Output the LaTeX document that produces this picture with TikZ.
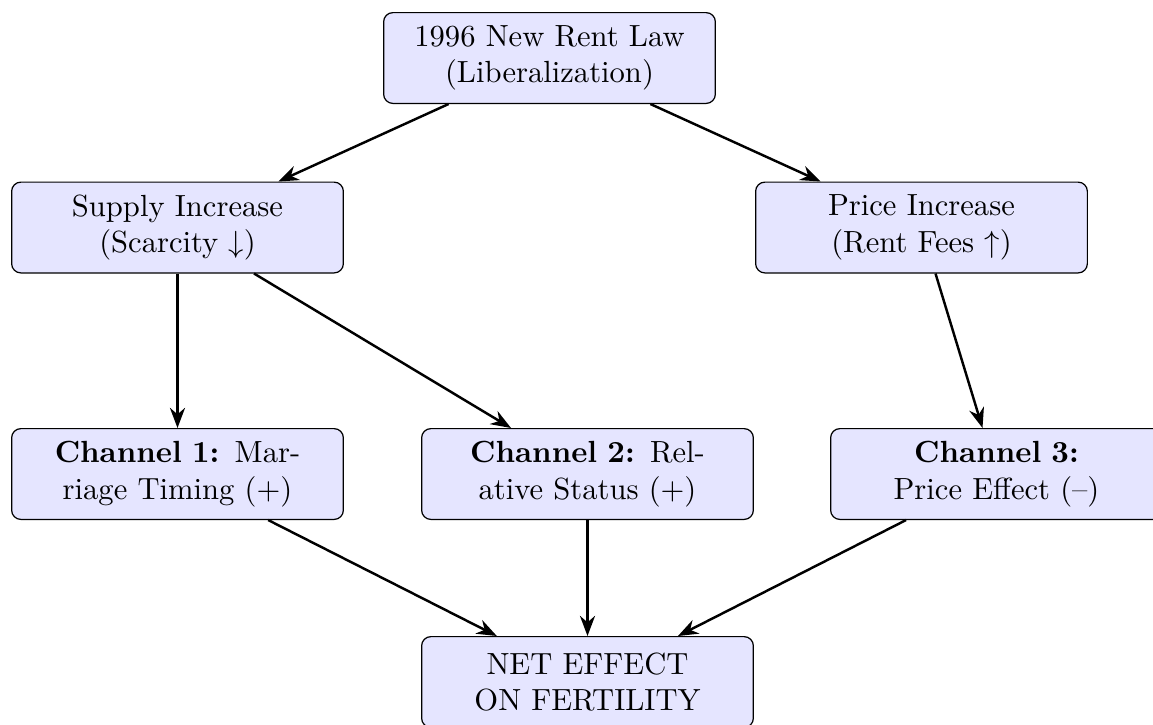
\documentclass[tikz,border=0pt]{standalone}
\usetikzlibrary{arrows.meta}
\tikzset{
  box/.style={draw, rounded corners=3pt, fill=blue!10, text width=3.6cm, align=center,
    inner xsep=2pt, inner ysep=2pt, minimum width=108.4pt, minimum height=29.67pt},
  arr/.style={-{Stealth}, thick}
}
\begin{document}
\begin{tikzpicture}[x=0.3268pt, y=-0.3268pt]
\useasboundingbox (0,0) rectangle (1153,724);
\node[box] (law) at (549.5,58) {1996 New Rent Law\\(Liberalization)};
\node[box] (supply) at (177.5,227.5) {Supply Increase\\(Scarcity $\downarrow$)};
\node[box] (price) at (921.5,227.5) {Price Increase\\(Rent Fees $\uparrow$)};
\node[box] (ch1) at (177.5,474) {\textbf{Channel 1:} Marriage Timing (+)};
\node[box] (ch2) at (587.5,474) {\textbf{Channel 2:} Relative Status (+)};
\node[box] (ch3) at (996.5,474) {\textbf{Channel 3:}\\Price Effect (--)};
\node[box] (net) at (587.5,682) {NET EFFECT\\ON FERTILITY};
\draw[arr] (law) -- (supply);
\draw[arr] (law) -- (price);
\draw[arr] (supply) -- (ch1);
\draw[arr] (supply) -- (ch2);
\draw[arr] (price) -- (ch3);
\draw[arr] (ch1) -- (net);
\draw[arr] (ch2) -- (net);
\draw[arr] (ch3) -- (net);
\end{tikzpicture}
\end{document}
